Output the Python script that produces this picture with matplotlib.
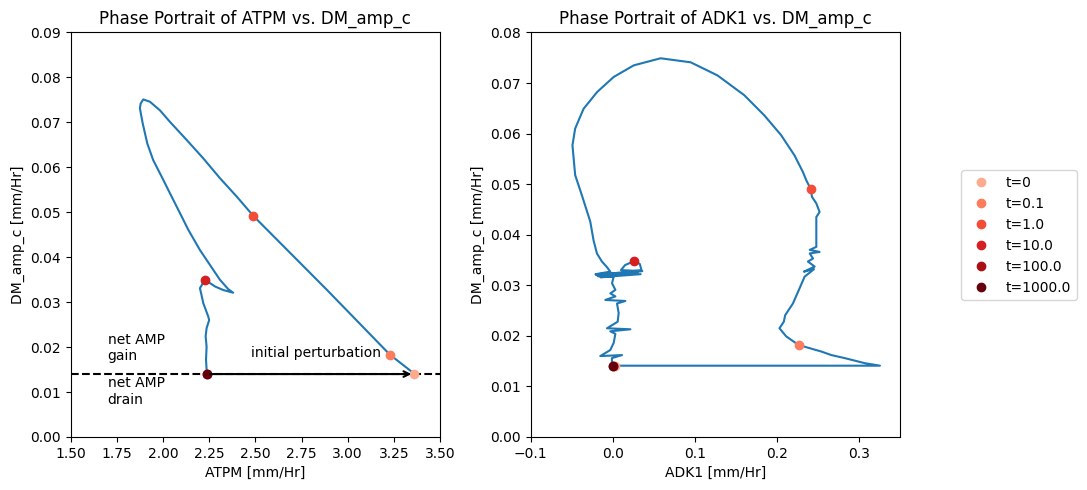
import matplotlib
matplotlib.use("Agg")
import matplotlib.pyplot as plt
import numpy as np

# ---- data ----
time_labels = ["t=0", "t=0.1", "t=1.0", "t=10.0", "t=100.0", "t=1000.0"]

atpm_traj = [3.360, 3.229, 2.886, 2.489, 2.399, 2.308, 2.218, 2.128, 2.038, 1.983,
             1.929, 1.893, 1.879, 1.875, 1.890, 1.915, 1.947, 1.993, 2.038, 2.092,
             2.137, 2.200, 2.254, 2.308, 2.353, 2.380, 2.326, 2.281, 2.227, 2.200,
             2.209, 2.218, 2.245, 2.250, 2.236, 2.231, 2.236, 2.233, 2.236, 2.240]
dm_amp_left = [0.0141, 0.0183, 0.0328, 0.0492, 0.0535, 0.0576, 0.0620, 0.0661, 0.0701, 0.0727,
               0.0746, 0.0751, 0.0742, 0.0731, 0.0698, 0.0653, 0.0616, 0.0579, 0.0542, 0.0498,
               0.0461, 0.0416, 0.0383, 0.0350, 0.0329, 0.0321, 0.0327, 0.0335, 0.0350, 0.0331,
               0.0315, 0.0298, 0.0268, 0.0260, 0.0242, 0.0224, 0.0201, 0.0172, 0.0150, 0.0141]

atpm_markers = [3.360, 3.229, 2.489, 2.227, 2.240, 2.240]
dm_amp_left_markers = [0.0141, 0.0183, 0.0492, 0.0350, 0.0141, 0.0141]

adk1_traj = [0.003, 0.3255, 0.3070, 0.2826, 0.2663, 0.2541, 0.2263, 0.2113, 0.2031, 0.2084,
             0.2101, 0.2195, 0.2276, 0.2337, 0.2452, 0.2329, 0.2460, 0.2378, 0.2440, 0.2400,
             0.2520, 0.2400, 0.2480, 0.2480, 0.2520, 0.2480, 0.2427, 0.2410, 0.2357, 0.2317,
             0.2214, 0.2051, 0.1847, 0.1602, 0.1277, 0.0950, 0.0583, 0.0256, 0.0011, -0.0192,
             -0.0356, -0.0458, -0.0491, -0.0458, -0.0376, -0.0274, -0.0234, -0.0193, -0.0132, -0.0071,
             -0.0030, -0.0210, 0.0300, -0.0180, 0.0360, 0.0100, 0.0150, 0.0264, 0.0330, 0.0350,
             -0.0200, 0.0340, -0.0150, 0.0011, -0.0009, 0.0032, -0.0029, 0.0032, -0.0091, 0.0154,
             0.0052, 0.0072, 0.0060, -0.0070, 0.0215, -0.0030, 0.0032, 0.0011, -0.0030, -0.0152,
             0.0113, -0.0010, -0.0010]
dm_amp_right = [0.0141, 0.0141, 0.0146, 0.0156, 0.0162, 0.0169, 0.0182, 0.0199, 0.0215, 0.0228,
                0.0241, 0.0264, 0.0294, 0.0317, 0.0332, 0.0327, 0.0337, 0.0347, 0.0353, 0.0363,
                0.0366, 0.0370, 0.0376, 0.0435, 0.0445, 0.0462, 0.0475, 0.0491, 0.0508, 0.0524,
                0.0557, 0.0597, 0.0636, 0.0676, 0.0715, 0.0741, 0.0749, 0.0735, 0.0712, 0.0682,
                0.0649, 0.0610, 0.0577, 0.0518, 0.0478, 0.0426, 0.0389, 0.0363, 0.0347, 0.0336,
                0.0327, 0.0322, 0.0325, 0.0318, 0.0328, 0.0330, 0.0340, 0.0348, 0.0342, 0.0330,
                0.0320, 0.0322, 0.0316, 0.0317, 0.0304, 0.0291, 0.0284, 0.0278, 0.0271, 0.0269,
                0.0264, 0.0245, 0.0228, 0.0215, 0.0213, 0.0209, 0.0204, 0.0186, 0.0172, 0.0160,
                0.0162, 0.0156, 0.0141]

adk1_markers = [0.003, 0.2263, 0.2410, 0.0264, 0.000, 0.000]
dm_amp_right_markers = [0.0141, 0.0182, 0.0491, 0.0348, 0.0141, 0.0141]

net_amp_level = 0.014

# ---- plotting ----
fig = plt.figure(figsize=(10.87, 4.9), dpi=100)
ax1 = fig.add_axes([0.065, 0.1082, 0.3398, 0.8255])
ax2 = fig.add_axes([0.4882, 0.1082, 0.3398, 0.8255])

colors = plt.cm.Reds(np.linspace(0.3, 1.0, len(time_labels)))

ax1.plot(atpm_traj, dm_amp_left, color="C0", lw=1.5)
for i, lab in enumerate(time_labels):
    ax1.plot(atpm_markers[i], dm_amp_left_markers[i], "o", color=colors[i], label=lab, zorder=3)
ax1.axhline(net_amp_level, color="black", ls="--", lw=1.5)
ax1.annotate("", xy=(3.36, net_amp_level), xytext=(2.24, net_amp_level),
             arrowprops=dict(arrowstyle="->", color="black", lw=1.5))
ax1.text(2.476, 0.0187, "initial perturbation", ha="left", va="center", fontsize=10)
ax1.text(1.70, 0.0198, "net AMP\ngain", ha="left", va="center", fontsize=10)
ax1.text(1.70, 0.0101, "net AMP\ndrain", ha="left", va="center", fontsize=10)
ax1.set_xlim(1.5, 3.5)
ax1.set_ylim(0, 0.09)
ax1.set_xlabel("ATPM [mm/Hr]")
ax1.set_ylabel("DM_amp_c [mm/Hr]")
ax1.set_title("Phase Portrait of ATPM vs. DM_amp_c")

ax2.plot(adk1_traj, dm_amp_right, color="C0", lw=1.5)
for i, lab in enumerate(time_labels):
    ax2.plot(adk1_markers[i], dm_amp_right_markers[i], "o", color=colors[i], label=lab, zorder=3)
ax2.set_xlim(-0.1, 0.35)
ax2.set_ylim(0, 0.08)
ax2.set_xlabel("ADK1 [mm/Hr]")
ax2.set_ylabel("DM_amp_c [mm/Hr]")
ax2.set_title("Phase Portrait of ADK1 vs. DM_amp_c")

handles, labels = ax2.get_legend_handles_labels()
fig.legend(handles, labels, loc="center", bbox_to_anchor=(0.9375, 0.52))

fig.savefig("out.png", dpi=100)
